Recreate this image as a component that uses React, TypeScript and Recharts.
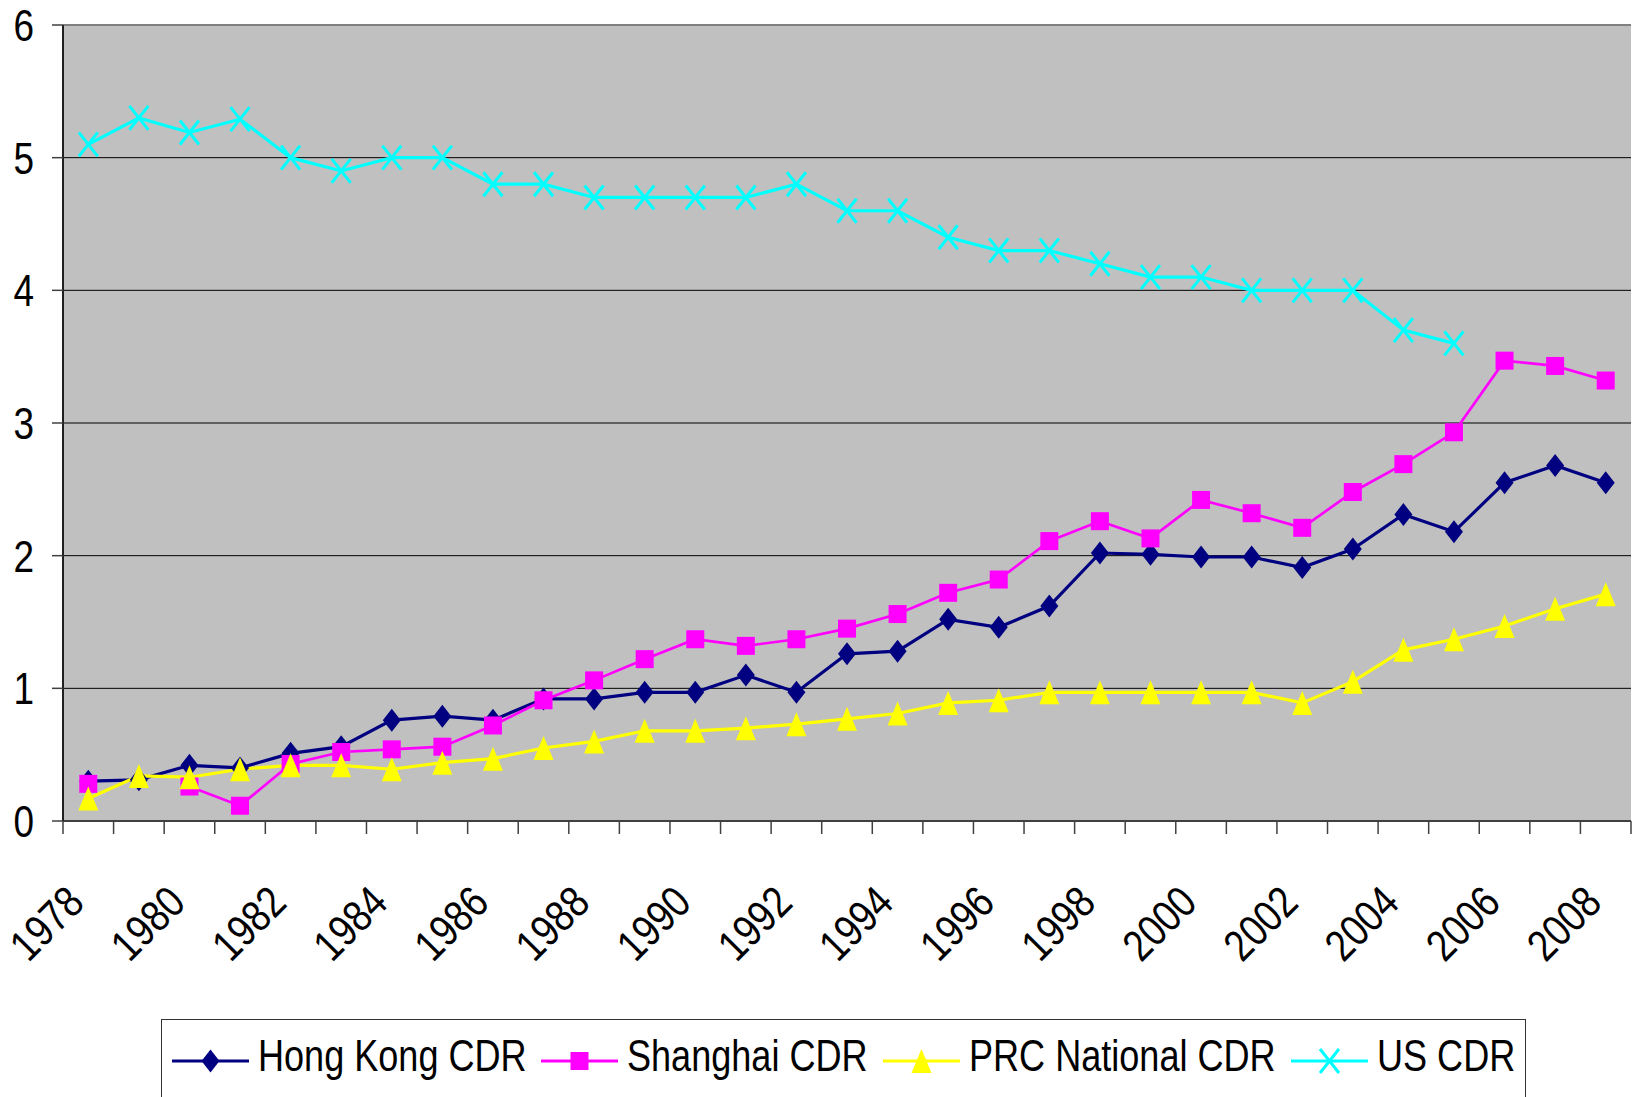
import React from 'react';
import { LineChart, Line, XAxis, YAxis, CartesianGrid, Legend, ReferenceLine } from 'recharts';

const YEARS = [1978, 1979, 1980, 1981, 1982, 1983, 1984, 1985, 1986, 1987, 1988, 1989, 1990, 1991, 1992, 1993, 1994, 1995, 1996, 1997, 1998, 1999, 2000, 2001, 2002, 2003, 2004, 2005, 2006, 2007, 2008];
const HONG_KONG = [0.30, 0.31, 0.42, 0.40, 0.51, 0.56, 0.76, 0.79, 0.76, 0.92, 0.92, 0.97, 0.97, 1.10, 0.97, 1.26, 1.28, 1.52, 1.46, 1.62, 2.02, 2.01, 1.99, 1.99, 1.91, 2.05, 2.31, 2.18, 2.55, 2.68, 2.55];
const SHANGHAI = [0.28, null, 0.26, 0.115, 0.43, 0.52, 0.54, 0.56, 0.72, 0.91, 1.06, 1.22, 1.37, 1.32, 1.37, 1.45, 1.56, 1.72, 1.82, 2.11, 2.26, 2.13, 2.42, 2.32, 2.21, 2.48, 2.69, 2.93, 3.47, 3.43, 3.32];
const PRC_NATIONAL = [0.17, 0.34, 0.33, 0.39, 0.42, 0.42, 0.39, 0.44, 0.47, 0.55, 0.60, 0.68, 0.68, 0.70, 0.73, 0.77, 0.81, 0.89, 0.91, 0.97, 0.97, 0.97, 0.97, 0.97, 0.89, 1.05, 1.29, 1.37, 1.47, 1.60, 1.71];
const US = [5.1, 5.3, 5.19, 5.29, 5.0, 4.9, 5.0, 5.0, 4.8, 4.8, 4.7, 4.7, 4.7, 4.7, 4.8, 4.6, 4.6, 4.4, 4.3, 4.3, 4.2, 4.1, 4.1, 4.0, 4.0, 4.0, 3.7, 3.6, null, null, null];
const Y_TICKS = [0, 1, 2, 3, 4, 5, 6];

const SERIES_NAMES = ['Hong Kong CDR', 'Shanghai CDR', 'PRC National CDR', 'US CDR'];
const SERIES_KEYS = ['hk', 'sh', 'prc', 'us'];
const SERIES_COLORS = ['#000080', '#FF00FF', '#FFFF00', '#00FFFF'];

const data = YEARS.map((y, i) => ({
  year: String(y),
  hk: HONG_KONG[i],
  sh: SHANGHAI[i],
  prc: PRC_NATIONAL[i],
  us: US[i],
}));

const FONT = '"Liberation Sans", Arial, Helvetica, sans-serif';
const FS = 44;
const SX = 0.84;
const LEGEND_SX = 0.82;

type MP = { cx: number; cy: number; color: string };

const Diamond = ({ cx, cy, color }: MP) => (
  <polygon points={`${cx},${cy - 11.5} ${cx + 9},${cy} ${cx},${cy + 11.5} ${cx - 9},${cy}`} fill={color} />
);
const Square = ({ cx, cy, color }: MP) => (
  <rect x={cx - 9} y={cy - 9} width={18} height={18} fill={color} />
);
const Triangle = ({ cx, cy, color }: MP) => (
  <polygon points={`${cx},${cy - 12} ${cx + 10},${cy + 12} ${cx - 10},${cy + 12}`} fill={color} />
);
const Cross = ({ cx, cy, color }: MP) => (
  <g stroke={color} strokeWidth={3}>
    <line x1={cx - 9.5} y1={cy - 12} x2={cx + 9.5} y2={cy + 12} />
    <line x1={cx - 9.5} y1={cy + 12} x2={cx + 9.5} y2={cy - 12} />
  </g>
);
const SHAPES = [Diamond, Square, Triangle, Cross];

const makeDot = (Shape: any, color: string) => (p: any) => {
  if (p == null || p.cx == null || p.cy == null || !Number.isFinite(p.cy) || p.value == null) {
    return <g key={`e-${p?.index}`} />;
  }
  return (
    <g key={`m-${p.index}`}>
      <Shape cx={p.cx} cy={p.cy} color={color} />
    </g>
  );
};

const XTick = (props: any) => {
  const { x, y, payload } = props;
  const idx = YEARS.indexOf(Number(payload.value));
  const off = payload && typeof payload.offset === 'number' && payload.offset > 0 ? payload.offset : 25.3;
  const last = idx === YEARS.length - 1;
  return (
    <g>
      <line x1={x - off} x2={x - off} y1={y - 13} y2={y} stroke="#404040" strokeWidth={1.5} />
      {last && <line x1={x + off} x2={x + off} y1={y - 13} y2={y} stroke="#404040" strokeWidth={1.5} />}
      {idx % 2 === 0 && (
        <g transform={`translate(${x - 2},${y + 71}) rotate(-45) scale(${SX},1)`}>
          <text x={0} y={0} textAnchor="end" fontSize={FS} fontFamily={FONT} fill="#000">
            {payload.value}
          </text>
        </g>
      )}
    </g>
  );
};

const YTick = (props: any) => {
  const { x, y, payload } = props;
  return (
    <g transform={`translate(${x},${y}) scale(${SX},1)`}>
      <text x={0} y={0} dy="0.36em" textAnchor="end" fontSize={FS} fontFamily={FONT} fill="#000">
        {payload.value}
      </text>
    </g>
  );
};

let measureCtx: CanvasRenderingContext2D | null = null;
const measure = (text: string) => {
  if (!measureCtx) measureCtx = document.createElement('canvas').getContext('2d');
  if (!measureCtx) return text.length * FS * 0.55;
  measureCtx.font = `${FS}px ${FONT}`;
  return measureCtx.measureText(text).width;
};

const LegendBox = () => (
  <div
    style={{
      border: '1.5px solid #333',
      background: '#fff',
      height: 100,
      boxSizing: 'border-box',
      display: 'flex',
      justifyContent: 'center',
      alignItems: 'flex-start',
      gap: 15,
    }}
  >
    {SERIES_NAMES.map((name, i) => {
      const Shape = SHAPES[i];
      const tw = measure(name) * LEGEND_SX;
      const w = 77 + 9 + tw;
      return (
        <svg key={name} width={w} height={80} style={{ display: 'block', overflow: 'visible', flex: 'none' }}>
          <line x1={0} x2={77} y1={41} y2={41} stroke={SERIES_COLORS[i]} strokeWidth={3} />
          <Shape cx={38.5} cy={41} color={SERIES_COLORS[i]} />
          <g transform={`translate(86,51) scale(${LEGEND_SX},1)`}>
            <text x={0} y={0} fontSize={FS} fontFamily={FONT} fill="#000">
              {name}
            </text>
          </g>
        </svg>
      );
    })}
  </div>
);

export default function App() {
  return (
    <div style={{ position: 'absolute', left: 0, top: 0, width: 1647, height: 1097, overflow: 'hidden', background: '#fff' }}>
      <LineChart width={1647} height={1097} data={data} margin={{ top: 25, right: 16, bottom: 0, left: 0 }}>
        <CartesianGrid vertical={false} stroke="#000" strokeWidth={1} fill="#C0C0C0" fillOpacity={1} />
        <XAxis
          dataKey="year"
          scale="band"
          interval={0}
          tickLine={false}
          tickSize={13}
          tickMargin={0}
          height={176}
          axisLine={{ stroke: '#404040', strokeWidth: 2 }}
          tick={XTick}
        />
        <YAxis
          domain={[0, 6]}
          ticks={Y_TICKS}
          interval={0}
          width={63}
          tickSize={11}
          tickMargin={18}
          tickLine={{ stroke: '#404040', strokeWidth: 1.5 }}
          axisLine={{ stroke: '#202020', strokeWidth: 2 }}
          tick={YTick}
        />
        <YAxis
          yAxisId="right"
          orientation="right"
          domain={[0, 6]}
          width={0}
          tick={false}
          tickLine={false}
          axisLine={{ stroke: '#808080', strokeWidth: 2.5 }}
        />
        <ReferenceLine y={6} stroke="#808080" strokeWidth={2} />
        <Legend
          verticalAlign="bottom"
          content={<LegendBox />}
          wrapperStyle={{ top: 1019, left: 161, width: 1365, height: 100 }}
        />
        {SERIES_KEYS.map((k, i) => (
          <Line
            key={k}
            type="linear"
            dataKey={k}
            name={SERIES_NAMES[i]}
            stroke={SERIES_COLORS[i]}
            strokeWidth={i === 1 ? 2.7 : 3.2}
            dot={makeDot(SHAPES[i], SERIES_COLORS[i])}
            activeDot={false}
            isAnimationActive={false}
          />
        ))}
      </LineChart>
    </div>
  );
}
